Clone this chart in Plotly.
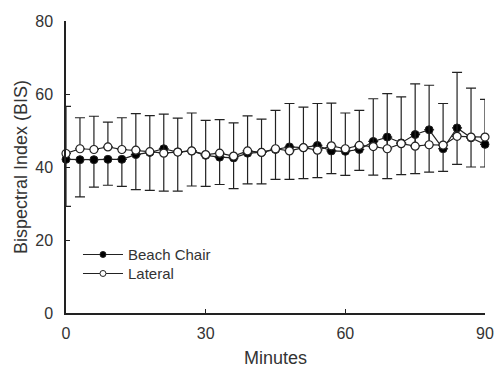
import plotly.graph_objects as go

minutes = [0, 3, 6, 9, 12, 15, 18, 21, 24, 27, 30, 33, 36, 39, 42, 45,
           48, 51, 54, 57, 60, 63, 66, 69, 72, 75, 78, 81, 84, 87, 90]
beach_chair = [42.1, 42.0, 42.0, 42.1, 42.1, 43.4, 44.0, 45.0, 44.1, 44.4, 43.2,
               42.7, 42.5, 43.8, 44.0, 44.8, 45.5, 45.3, 45.9, 44.4, 44.3, 44.8,
               47.0, 48.2, 46.6, 48.9, 50.2, 45.0, 50.7, 48.0, 46.2]
lateral = [43.7, 45.0, 44.8, 45.5, 44.8, 44.6, 44.2, 43.8, 44.1, 44.4, 43.4,
           43.8, 43.0, 44.4, 44.0, 45.0, 44.4, 45.3, 44.6, 45.8, 45.0, 45.9,
           45.6, 45.0, 46.4, 45.7, 46.1, 46.0, 48.4, 48.2, 48.2]
# SD shown downward for Beach Chair, upward for Lateral
beach_chair_sd = [12.9, 10.2, 7.5, 7.1, 7.4, 9.6, 10.4, 11.6, 10.7, 9.6, 8.5,
                  7.5, 8.4, 8.4, 8.6, 8.2, 8.9, 8.5, 8.8, 6.2, 6.6, 5.7,
                  9.2, 11.4, 8.7, 10.7, 11.6, 6.2, 10.0, 8.0, 6.2]
lateral_sd = [12.9, 8.5, 9.1, 6.8, 8.7, 10.0, 9.9, 10.7, 9.3, 10.4, 9.4,
              9.2, 9.1, 9.6, 9.1, 10.5, 13.0, 11.1, 12.8, 11.7, 9.8, 9.6,
              13.1, 15.1, 12.8, 17.1, 16.3, 11.4, 17.5, 13.4, 10.3]
x_ticks = [0, 30, 60, 90]
y_ticks = [0, 20, 40, 60, 80]

FONT = "Liberation Sans, Arial"
TXT = "#333333"

fig = go.Figure()
fig.add_trace(go.Scatter(
    x=minutes, y=beach_chair, mode="lines+markers", name="Beach Chair",
    line=dict(color="#222222", width=1.2),
    marker=dict(symbol="circle", size=8, color="#000000",
                line=dict(color="#222222", width=1)),
    error_y=dict(type="data", symmetric=False, array=[0] * len(minutes),
                 arrayminus=beach_chair_sd, color="#222222", thickness=1.2, width=5),
    cliponaxis=False, showlegend=False))
fig.add_trace(go.Scatter(
    x=minutes, y=lateral, mode="lines+markers", name="Lateral",
    line=dict(color="#222222", width=1.2),
    marker=dict(symbol="circle", size=8, color="#ffffff",
                line=dict(color="#222222", width=1.2)),
    error_y=dict(type="data", symmetric=False, array=lateral_sd,
                 arrayminus=[0] * len(minutes), color="#222222", thickness=1.2, width=5),
    cliponaxis=False, showlegend=False))
# legend entries (smaller symbols as in the reference)
fig.add_trace(go.Scatter(
    x=[None], y=[None], mode="lines+markers", name="Beach Chair", legend="legend",
    line=dict(color="#222222", width=1.2),
    marker=dict(size=6, color="#000000", line=dict(color="#222222", width=1))))
fig.add_trace(go.Scatter(
    x=[None], y=[None], mode="lines+markers", name="Lateral", legend="legend2",
    line=dict(color="#222222", width=1.2),
    marker=dict(size=6, color="#ffffff", line=dict(color="#222222", width=1))))

axis_common = dict(showgrid=False, zeroline=False, showline=True, automargin=False,
                   linecolor="#222222", linewidth=1.5, ticks="inside",
                   ticklen=4, tickwidth=1.2, tickcolor="#222222",
                   tickfont=dict(family=FONT, size=16, color=TXT))
legend_common = dict(xanchor="left", yanchor="top", bgcolor="rgba(0,0,0,0)",
                     itemwidth=40, font=dict(family=FONT, size=15, color=TXT))
fig.update_layout(
    width=495, height=368,
    margin=dict(l=66, r=10, t=21, b=55),
    paper_bgcolor="white", plot_bgcolor="white",
    xaxis=dict(range=[0, 90], tickvals=x_ticks, ticklabelstandoff=5,
               title=dict(text="Minutes", standoff=15,
                          font=dict(family=FONT, size=18, color=TXT)),
               **axis_common),
    yaxis=dict(range=[0, 80], tickvals=y_ticks, ticklabelstandoff=8,
               title=dict(text="Bispectral Index (BIS)", standoff=3,
                          font=dict(family=FONT, size=18, color=TXT)),
               **axis_common),
    legend=dict(x=0.0286, y=0.256, **legend_common),
    legend2=dict(x=0.0286, y=0.191, **legend_common),
)
fig.write_html("out.html")
